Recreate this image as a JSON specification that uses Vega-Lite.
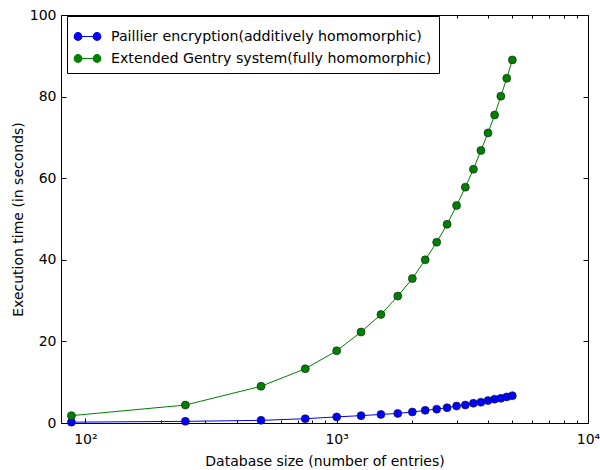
{
  "$schema": "https://vega.github.io/schema/vega-lite/v6.json",
  "width": 527,
  "height": 408,
  "autosize": "none",
  "padding": {"left": 61, "top": 15, "right": 12, "bottom": 47},
  "background": "white",
  "config": {
    "font": "DejaVu Sans",
    "view": {"stroke": "black", "strokeWidth": 1},
    "axis": {
      "domain": false, "grid": false,
      "labelFont": "DejaVu Sans", "titleFont": "DejaVu Sans",
      "labelFontSize": 14, "titleFontSize": 14, "titleFontWeight": "normal",
      "labelColor": "black", "titleColor": "black", "tickColor": "black", "tickWidth": 1
    }
  },
  "data": {
    "values": [
      {"n": 88, "time": 0.2, "method": "Paillier encryption(additively homomorphic)"},
      {"n": 250, "time": 0.4, "method": "Paillier encryption(additively homomorphic)"},
      {"n": 500, "time": 0.65, "method": "Paillier encryption(additively homomorphic)"},
      {"n": 750, "time": 1.05, "method": "Paillier encryption(additively homomorphic)"},
      {"n": 1000, "time": 1.5, "method": "Paillier encryption(additively homomorphic)"},
      {"n": 1250, "time": 1.8, "method": "Paillier encryption(additively homomorphic)"},
      {"n": 1500, "time": 2.1, "method": "Paillier encryption(additively homomorphic)"},
      {"n": 1750, "time": 2.35, "method": "Paillier encryption(additively homomorphic)"},
      {"n": 2000, "time": 2.7, "method": "Paillier encryption(additively homomorphic)"},
      {"n": 2250, "time": 3.1, "method": "Paillier encryption(additively homomorphic)"},
      {"n": 2500, "time": 3.4, "method": "Paillier encryption(additively homomorphic)"},
      {"n": 2750, "time": 3.75, "method": "Paillier encryption(additively homomorphic)"},
      {"n": 3000, "time": 4.15, "method": "Paillier encryption(additively homomorphic)"},
      {"n": 3250, "time": 4.4, "method": "Paillier encryption(additively homomorphic)"},
      {"n": 3500, "time": 4.85, "method": "Paillier encryption(additively homomorphic)"},
      {"n": 3750, "time": 5.1, "method": "Paillier encryption(additively homomorphic)"},
      {"n": 4000, "time": 5.5, "method": "Paillier encryption(additively homomorphic)"},
      {"n": 4250, "time": 5.85, "method": "Paillier encryption(additively homomorphic)"},
      {"n": 4500, "time": 6.05, "method": "Paillier encryption(additively homomorphic)"},
      {"n": 4750, "time": 6.4, "method": "Paillier encryption(additively homomorphic)"},
      {"n": 5000, "time": 6.7, "method": "Paillier encryption(additively homomorphic)"},
      {"n": 88, "time": 1.8, "method": "Extended Gentry system(fully homomorphic)"},
      {"n": 250, "time": 4.4, "method": "Extended Gentry system(fully homomorphic)"},
      {"n": 500, "time": 9.0, "method": "Extended Gentry system(fully homomorphic)"},
      {"n": 750, "time": 13.3, "method": "Extended Gentry system(fully homomorphic)"},
      {"n": 1000, "time": 17.7, "method": "Extended Gentry system(fully homomorphic)"},
      {"n": 1250, "time": 22.3, "method": "Extended Gentry system(fully homomorphic)"},
      {"n": 1500, "time": 26.6, "method": "Extended Gentry system(fully homomorphic)"},
      {"n": 1750, "time": 31.1, "method": "Extended Gentry system(fully homomorphic)"},
      {"n": 2000, "time": 35.4, "method": "Extended Gentry system(fully homomorphic)"},
      {"n": 2250, "time": 40.0, "method": "Extended Gentry system(fully homomorphic)"},
      {"n": 2500, "time": 44.3, "method": "Extended Gentry system(fully homomorphic)"},
      {"n": 2750, "time": 48.7, "method": "Extended Gentry system(fully homomorphic)"},
      {"n": 3000, "time": 53.3, "method": "Extended Gentry system(fully homomorphic)"},
      {"n": 3250, "time": 57.8, "method": "Extended Gentry system(fully homomorphic)"},
      {"n": 3500, "time": 62.2, "method": "Extended Gentry system(fully homomorphic)"},
      {"n": 3750, "time": 66.8, "method": "Extended Gentry system(fully homomorphic)"},
      {"n": 4000, "time": 71.1, "method": "Extended Gentry system(fully homomorphic)"},
      {"n": 4250, "time": 75.5, "method": "Extended Gentry system(fully homomorphic)"},
      {"n": 4500, "time": 80.1, "method": "Extended Gentry system(fully homomorphic)"},
      {"n": 4750, "time": 84.5, "method": "Extended Gentry system(fully homomorphic)"},
      {"n": 5000, "time": 89.0, "method": "Extended Gentry system(fully homomorphic)"}
    ]
  },
  "layer": [
    {
      "mark": {"type": "line", "strokeWidth": 1},
      "encoding": {
        "x": {
          "field": "n", "type": "quantitative",
          "scale": {"type": "log", "domain": [80, 10000], "nice": false},
          "axis": {
            "orient": "bottom",
            "title": "Database size (number of entries)",
            "values": [90, 100, 200, 300, 400, 500, 600, 700, 800, 900, 1000, 2000, 3000, 4000, 5000, 6000, 7000, 8000, 9000, 10000],
            "labelExpr": "datum.value == 100 ? '10²' : datum.value == 1000 ? '10³' : datum.value == 10000 ? '10⁴' : ''",
            "tickSize": {"condition": {"test": "datum.value == 100 || datum.value == 1000 || datum.value == 10000", "value": -5}, "value": -3},
            "labelPadding": 14,
            "labelFlush": false,
            "labelOverlap": false,
            "titlePadding": 6
          }
        },
        "y": {
          "field": "time", "type": "quantitative",
          "scale": {"domain": [0, 100], "nice": false},
          "axis": {
            "orient": "left",
            "title": "Execution time (in seconds)",
            "values": [0, 20, 40, 60, 80, 100],
            "tickSize": -5,
            "labelPadding": 10,
            "titlePadding": 4
          }
        },
        "color": {
          "field": "method", "type": "nominal",
          "scale": {
            "domain": ["Paillier encryption(additively homomorphic)", "Extended Gentry system(fully homomorphic)"],
            "range": ["#0000ff", "#008000"]
          },
          "legend": {
            "title": null,
            "orient": "none",
            "legendX": 6,
            "legendY": 1,
            "strokeColor": "black",
            "fillColor": "white",
            "padding": 7,
            "rowPadding": 1,
            "symbolType": "M-0.75,0L0.75,0M-1.05,0A0.3,0.3,0,1,0,-0.45,0A0.3,0.3,0,1,0,-1.05,0M0.45,0A0.3,0.3,0,1,0,1.05,0A0.3,0.3,0,1,0,0.45,0",
            "symbolSize": 640,
            "symbolStrokeWidth": 1.2,
            "labelFontSize": 14.2,
            "labelFont": "DejaVu Sans",
            "labelColor": "black",
            "labelLimit": 0,
            "labelOffset": 10,
            "cornerRadius": 0,
            "encode": {
              "symbols": {"update": {"stroke": {"scale": "color", "field": "value"}, "fill": {"scale": "color", "field": "value"}, "opacity": {"value": 1}}}
            }
          }
        }
      }
    },
    {
      "mark": {"type": "point", "filled": true, "size": 64, "opacity": 1, "stroke": "#1a1a1a", "strokeWidth": 0.6},
      "encoding": {
        "x": {
          "field": "n", "type": "quantitative",
          "scale": {"type": "log", "domain": [80, 10000], "nice": false},
          "axis": {
            "orient": "top",
            "title": null,
            "labels": false,
            "values": [90, 100, 200, 300, 400, 500, 600, 700, 800, 900, 1000, 2000, 3000, 4000, 5000, 6000, 7000, 8000, 9000, 10000],
            "tickSize": {"condition": {"test": "datum.value == 100 || datum.value == 1000 || datum.value == 10000", "value": -5}, "value": -3}
          }
        },
        "y": {
          "field": "time", "type": "quantitative",
          "scale": {"domain": [0, 100], "nice": false},
          "axis": {"orient": "right", "title": null, "labels": false, "values": [0, 20, 40, 60, 80, 100], "tickSize": -5}
        },
        "color": {
          "field": "method", "type": "nominal",
          "scale": {
            "domain": ["Paillier encryption(additively homomorphic)", "Extended Gentry system(fully homomorphic)"],
            "range": ["#0000ff", "#008000"]
          },
          "legend": null
        }
      }
    }
  ],
  "resolve": {"axis": {"x": "independent", "y": "independent"}}
}
